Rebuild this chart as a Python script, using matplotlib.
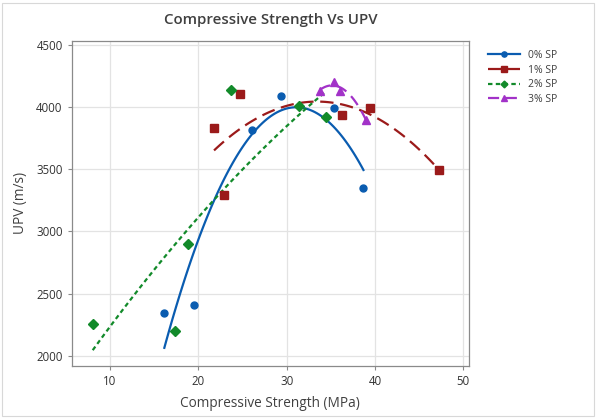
import numpy as np
import matplotlib.pyplot as plt
from matplotlib.patches import Rectangle

plt.rcParams['font.family'] = ['Open Sans', 'DejaVu Sans']

# data
labels = ['0% SP', '1% SP', '2% SP', '3% SP']
x_sp0 = [16.15, 19.55, 26.1, 29.37, 35.37, 38.7]
y_sp0 = [2342, 2411, 3818, 4089, 3992, 3347]
x_sp1 = [21.78, 22.95, 24.72, 36.27, 39.44, 47.26]
y_sp1 = [3836, 3293, 4108, 3938, 3992, 3495]
x_sp2 = [8.04, 17.32, 18.83, 23.74, 31.37, 34.5]
y_sp2 = [2253, 2202, 2901, 4140, 4011, 3917]
x_sp3 = [33.78, 35.4, 36.05, 39.0]
y_sp3 = [4134, 4204, 4134, 3898]

xticks = [10, 20, 30, 40, 50]
yticks = [2000, 2500, 3000, 3500, 4000, 4500]

series = [
    (x_sp0, y_sp0, '#0a5cb0', 'o', 5, '-'),
    (x_sp1, y_sp1, '#9b1a1a', 's', 5.5, (0, (6, 3))),
    (x_sp2, y_sp2, '#128a2a', 'D', 4.6, (0, (2, 1.5))),
    (x_sp3, y_sp3, '#a232c8', '^', 6, (0, (5, 3))),
]

fig = plt.figure(figsize=(5.96, 4.18), dpi=100)
ax = fig.add_axes([0.1203, 0.1251, 0.6667, 0.7775])

for (xs, ys, col, mk, ms, ls), lab in zip(series, labels):
    # quadratic fit line through each series
    c = np.polyfit(xs, ys, 2)
    xf = np.linspace(min(xs), max(xs), 100)
    ax.plot(xf, np.polyval(c, xf), color=col, lw=1.6, ls=ls, zorder=2)
    ax.plot(xs, ys, mk, color=col, ms=ms, mec=col, zorder=3)
    # legend handle
    ax.plot([], [], color=col, lw=1.6, ls=ls, marker=mk, ms=ms * 0.75, label=lab)

ax.set_xlim(5.66, 50.66)
ax.set_ylim(1919, 4535)
ax.set_xticks(xticks)
ax.set_yticks(yticks)
ax.grid(True, color='#e3e3e3', lw=0.9)
ax.set_axisbelow(True)
for s in ax.spines.values():
    s.set_color('#8a8a8a')
    s.set_linewidth(0.9)
ax.tick_params(labelsize=8.3, colors='#333333', length=3, width=0.8)
ax.tick_params(color='#8a8a8a')

ax.set_title('Compressive Strength Vs UPV', fontsize=10.8, fontweight='semibold',
             color='#404040', pad=12)
ax.set_xlabel('Compressive Strength (MPa)', fontsize=9.8, color='#404040', labelpad=6)
ax.set_ylabel('UPV (m/s)', fontsize=9.8, color='#404040', labelpad=6)

ax.legend(loc='upper left', bbox_to_anchor=(1.025, 1.0), frameon=False,
          fontsize=7.5, handlelength=3.0, labelspacing=0.35, labelcolor='#404040')

fig.patches.append(Rectangle((0.004, 0.004), 0.992, 0.99, transform=fig.transFigure,
                             fill=False, ec='#d8d8d8', lw=0.8))

fig.savefig('out.png', dpi=100)
